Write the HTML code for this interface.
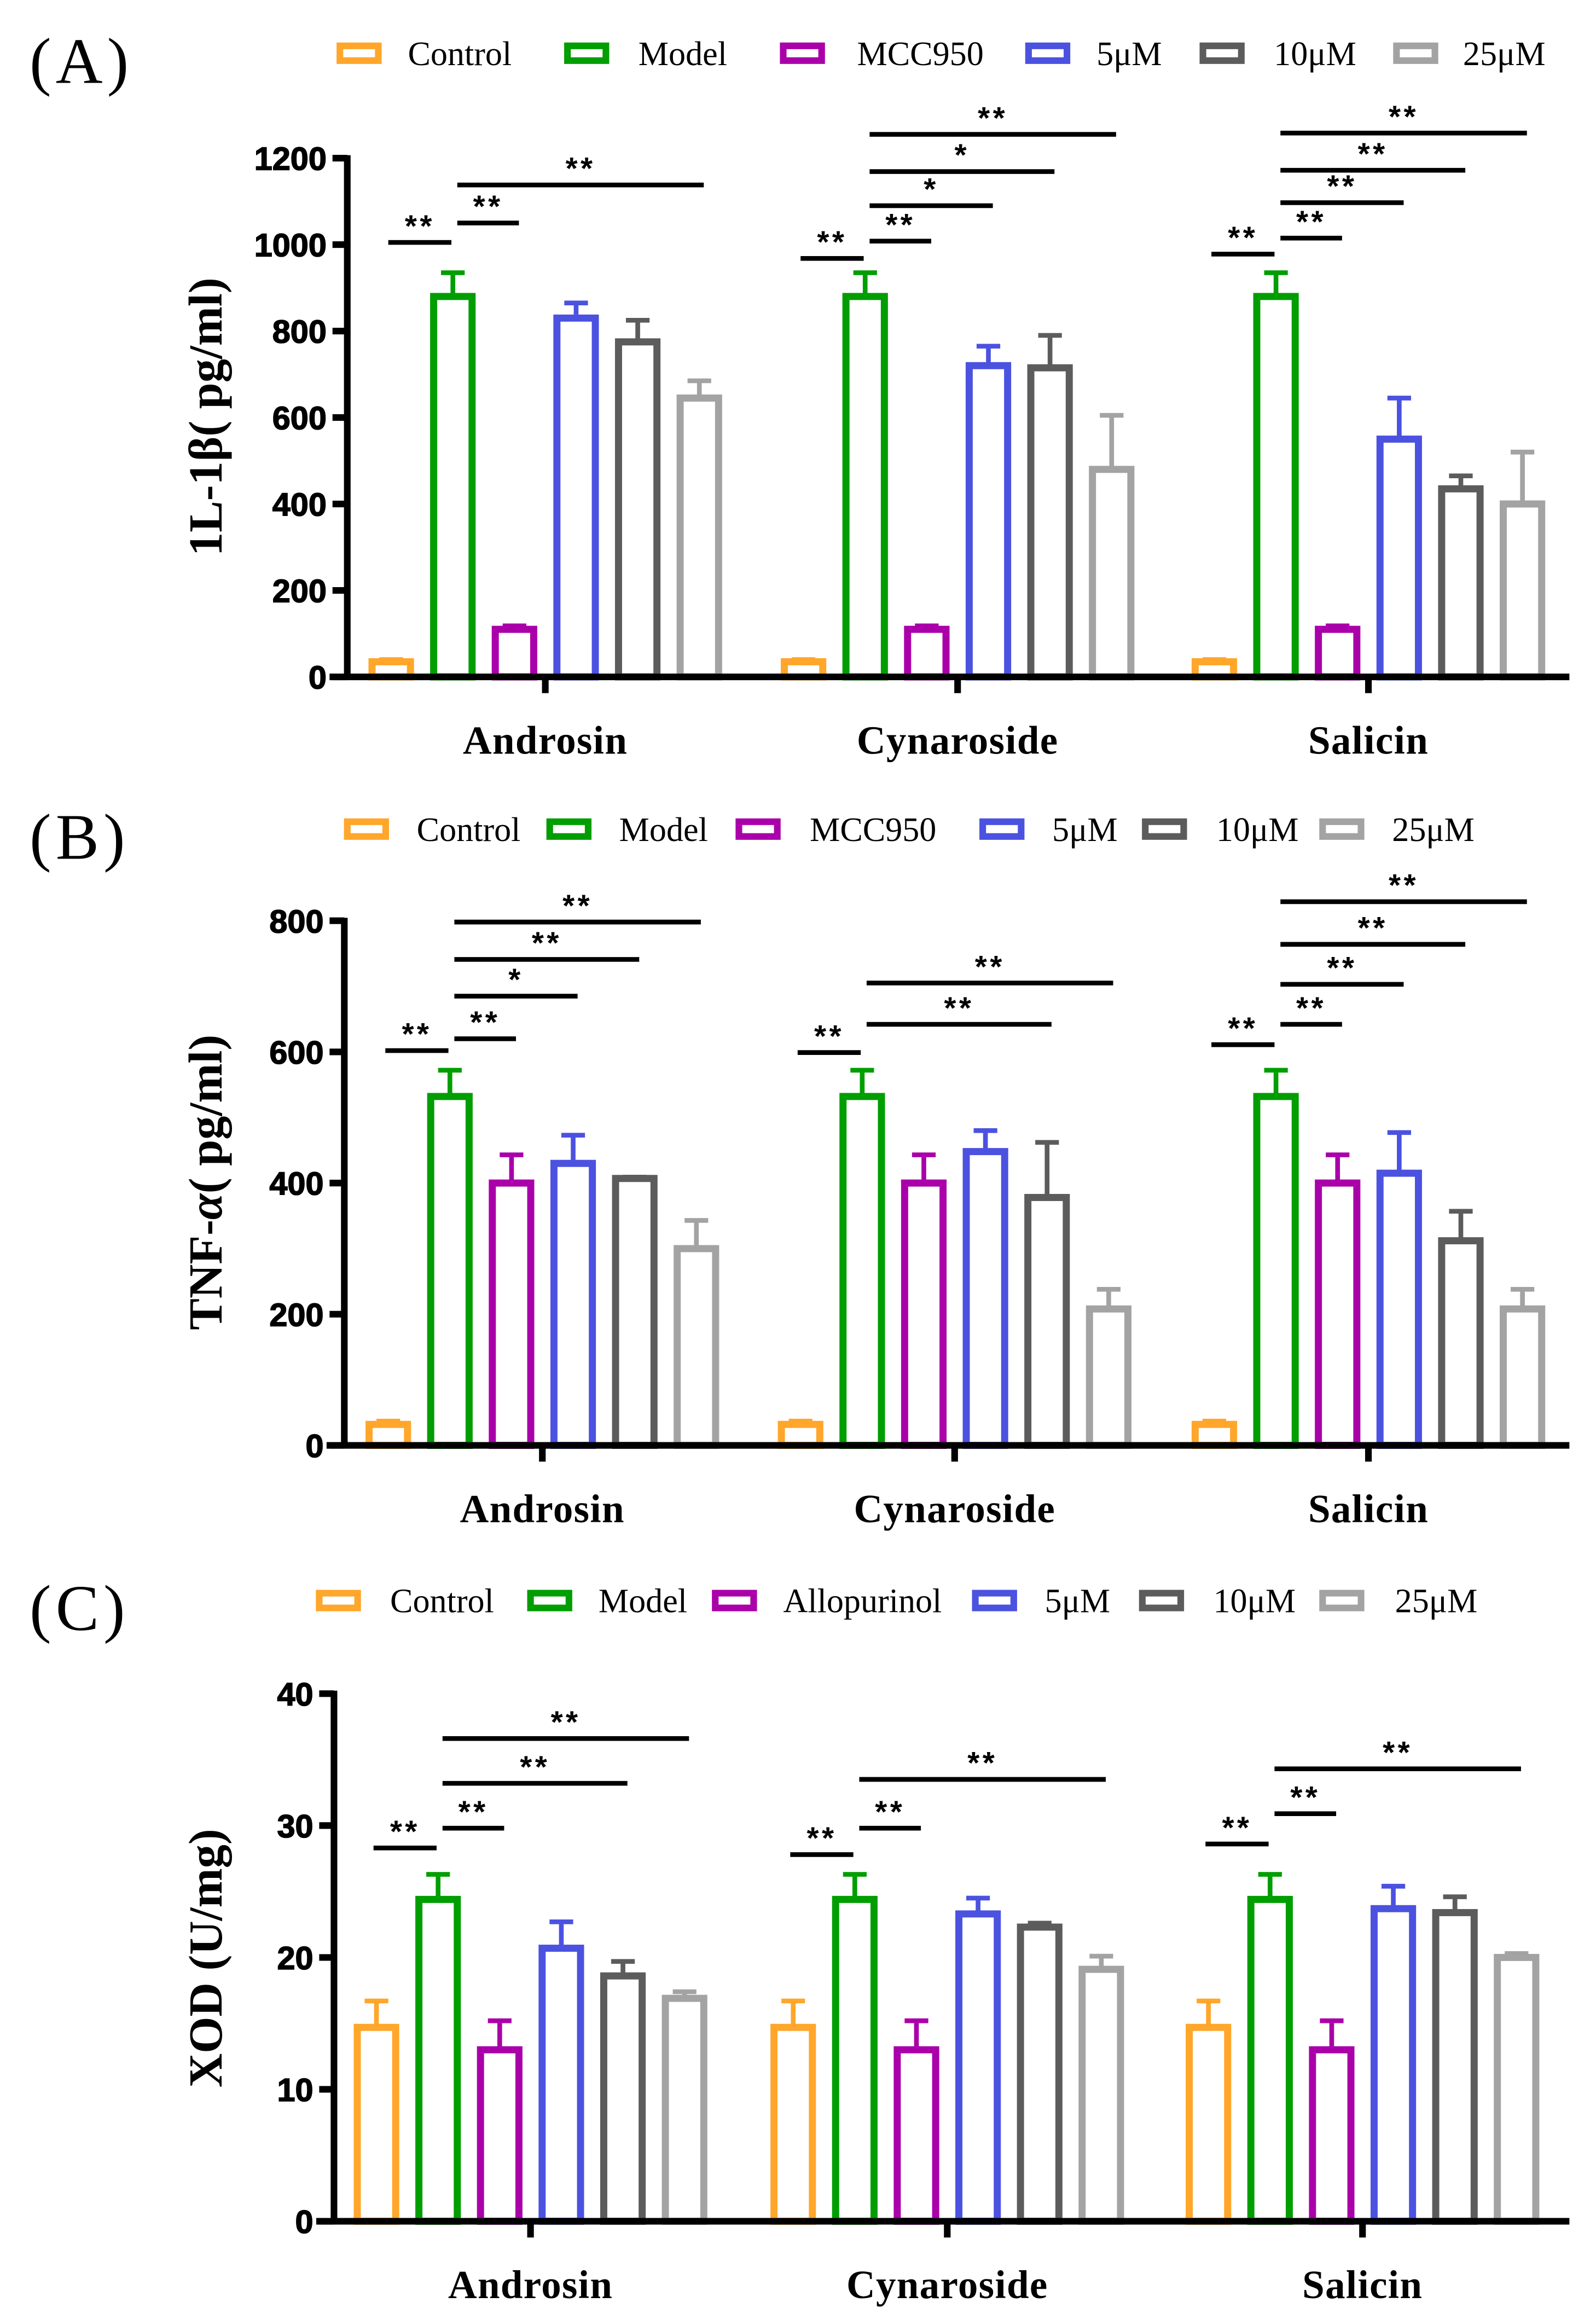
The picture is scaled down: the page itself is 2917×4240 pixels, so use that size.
<!DOCTYPE html>
<html><head><meta charset="utf-8"><style>
html,body{margin:0;padding:0;background:#fff;}
svg{display:block;}
.serif{font-family:"Liberation Serif",serif;}
.sans{font-family:"Liberation Sans",sans-serif;}
</style></head><body>
<svg id="fig" width="2917" height="4240" viewBox="0 0 1080 1569.8" xmlns="http://www.w3.org/2000/svg"></svg>
<script>
const groups = ["Androsin","Cynaroside","Salicin"];
const colors = ["#FFA62B","#009E00","#AA00AA","#4B52E0","#5C5C5C","#A3A3A3"];
const legendA = ["Control","Model","MCC950","5μM","10μM","25μM"];
const legendC = ["Control","Model","Allopurinol","5μM","10μM","25μM"];
// Panel A values [series][group]
const aMean = [[35,35,35],[880,880,880],[110,110,110],[830,720,550],[775,715,435],[645,480,400]];
const aErr  = [[40,40,40],[935,935,935],[118,118,118],[865,765,645],[825,790,465],[685,605,520]];
const aTicks = [0,200,400,600,800,1000,1200];
const aSig = [[0,0,1,1005,"**"],[0,1,2,1050,"**"],[0,1,5,1138,"**"],
  [1,0,1,968,"**"],[1,1,2,1008,"**"],[1,1,3,1090,"*"],[1,1,4,1169,"*"],[1,1,5,1255,"**"],
  [2,0,1,978,"**"],[2,1,2,1015,"**"],[2,1,3,1097,"**"],[2,1,4,1172,"**"],[2,1,5,1258,"**"]];
// Panel B
const bMean = [[32,32,32],[532,532,532],[400,400,400],[430,448,415],[407,378,312],[300,208,208]];
const bErr  = [[37,37,37],[572,572,572],[443,443,443],[473,480,477],[409,462,357],[343,238,238]];
const bTicks = [0,200,400,600,800];
const bSig = [[0,0,1,602,"**"],[0,1,2,620,"**"],[0,1,3,685,"*"],[0,1,4,741,"**"],[0,1,5,798,"**"],
  [1,0,1,599,"**"],[1,1,4,642,"**"],[1,1,5,705,"**"],
  [2,0,1,611,"**"],[2,1,2,642,"**"],[2,1,3,703,"**"],[2,1,4,764,"**"],[2,1,5,829,"**"]];
// Panel C
const cMean = [[14.7,14.7,14.7],[24.4,24.4,24.4],[13,13,13],[20.7,23.3,23.7],[18.6,22.3,23.4],[16.9,19.1,20]];
const cErr  = [[16.7,16.7,16.7],[26.3,26.3,26.3],[15.2,15.2,15.2],[22.7,24.5,25.4],[19.7,22.6,24.6],[17.4,20.1,20.3]];
const cTicks = [0,10,20,30,40];
const cSig = [[0,0,1,28.3,"**"],[0,1,2,29.8,"**"],[0,1,4,33.2,"**"],[0,1,5,36.6,"**"],
  [1,0,1,27.8,"**"],[1,1,2,29.8,"**"],[1,1,5,33.5,"**"],
  [2,0,1,28.6,"**"],[2,1,2,30.9,"**"],[2,1,5,34.3,"**"]];

const NS="http://www.w3.org/2000/svg";
const svg=document.getElementById('fig');
function el(tag,attrs,parent,text){const e=document.createElementNS(NS,tag);for(const k in attrs)e.setAttribute(k,attrs[k]);if(text!==undefined)e.textContent=text;(parent||svg).appendChild(e);return e;}

function panel(cfg){
  const g=el('g',{});
  
  
  const yv=v=>cfg.y0-(v/cfg.max)*(cfg.y0-cfg.y1);
  const step=41.7;
  const bx=(gi,si)=>cfg.centers[gi]+(si-2.5)*step;
  const pl=el('text',{x:20,y:cfg.legY+20,'font-size':44,class:'serif','letter-spacing':3},g,cfg.letter);
  
  
  cfg.legend.forEach((t,i)=>{
    const r=el('rect',{x:cfg.legIcon[i]+2,y:cfg.legY-5,width:26,height:10,fill:'none',stroke:colors[i],'stroke-width':4.5},g);
    
    
    const tx=el('text',{x:cfg.legText[i],y:cfg.legY+8,'font-size':23,class:'serif'},g,t);
    
    
  });
  cfg.ticks.forEach(t=>{
    const y=yv(t);
    el('line',{x1:cfg.ax-10,x2:cfg.ax,y1:y,y2:y,stroke:'#000','stroke-width':4.5},g);
    const l=el('text',{x:cfg.ax-14,y:y+8,'font-size':22,'font-weight':900,'text-anchor':'end',class:'sans',stroke:'#000','stroke-width':0.6},g,t);
    
    
  });
  const yt=el('text',{x:0,y:0,'font-size':32,'font-weight':'bold','text-anchor':'middle',class:'serif',transform:`translate(${cfg.titleX},${cfg.titleY}) rotate(-90)`},g);
  yt.innerHTML=cfg.title;
  
  
  cfg.mean.forEach((ser,si)=>ser.forEach((v,gi)=>{
    const x=bx(gi,si), y=yv(v), w=26;
    const e=yv(cfg.err[si][gi]);
    el('line',{x1:x,x2:x,y1:y,y2:e,stroke:colors[si],'stroke-width':3.2},g);
    el('line',{x1:x-8,x2:x+8,y1:e,y2:e,stroke:colors[si],'stroke-width':3.2},g);
    const b=el('rect',{x:x-w/2,y:y,width:w,height:cfg.y0-y,fill:'#fff',stroke:colors[si],'stroke-width':4.8},g);
    
    
  }));
  el('line',{x1:cfg.ax,x2:cfg.ax,y1:cfg.y1-2,y2:cfg.y0+2,stroke:'#000','stroke-width':4.5},g);
  el('line',{x1:cfg.ax-12,x2:1062,y1:cfg.y0,y2:cfg.y0,stroke:'#000','stroke-width':4.5},g);
  groups.forEach((n,gi)=>{
    el('line',{x1:cfg.centers[gi],x2:cfg.centers[gi],y1:cfg.y0,y2:cfg.y0+11,stroke:'#000','stroke-width':4.5},g);
    const l=el('text',{x:cfg.centers[gi],y:cfg.y0+52,'font-size':27,'font-weight':'bold','text-anchor':'middle',class:'serif','letter-spacing':0.5},g,n);
    
    
  });
  cfg.sig.forEach(s=>{
    const [gi,a,b,v,lab]=s;
    const y=yv(v);
    const x1=bx(gi,a)-(a===0?2:-3), x2=bx(gi,b)-(a===0?1:-3);
    el('line',{x1:x1,x2:x2,y1:y,y2:y,stroke:'#000','stroke-width':3.2},g);
    const t=el('text',{x:(x1+x2)/2,y:y-4,'font-size':21,'font-weight':'bold','text-anchor':'middle',class:'sans','letter-spacing':2},g,lab);
    
    
  });
}
panel({name:'panel-a-il1b',letter:'(A)',legend:legendA,legY:36,
  legIcon:[228,382,528,694,812,943],legText:[276,432,580,742,862,990],
  mean:aMean,err:aErr,ticks:aTicks,sig:aSig,max:1200,y0:458,y1:107,ax:235,
  centers:[369,648,926],title:'1L-1β( pg/ml)',titleX:150,titleY:282});
panel({name:'panel-b-tnfa',letter:'(B)',legend:legendA,legY:561,
  legIcon:[233,370,498,663,773,893],legText:[282,419,548,712,823,942],
  mean:bMean,err:bErr,ticks:bTicks,sig:bSig,max:800,y0:978,y1:623,ax:233,
  centers:[367,646,926],title:'TNF-<tspan font-style="italic">α</tspan>( pg/ml)',titleX:150,titleY:800});
panel({name:'panel-c-xod',letter:'(C)',legend:legendC,legY:1083,
  legIcon:[214,357,482,658,771,893],legText:[264,405,530,707,821,944],
  mean:cMean,err:cErr,ticks:cTicks,sig:cSig,max:40,y0:1503,y1:1146,ax:226,
  centers:[359,641,922],title:'XOD (U/mg)',titleX:150,titleY:1325});
</script>
</body></html>
